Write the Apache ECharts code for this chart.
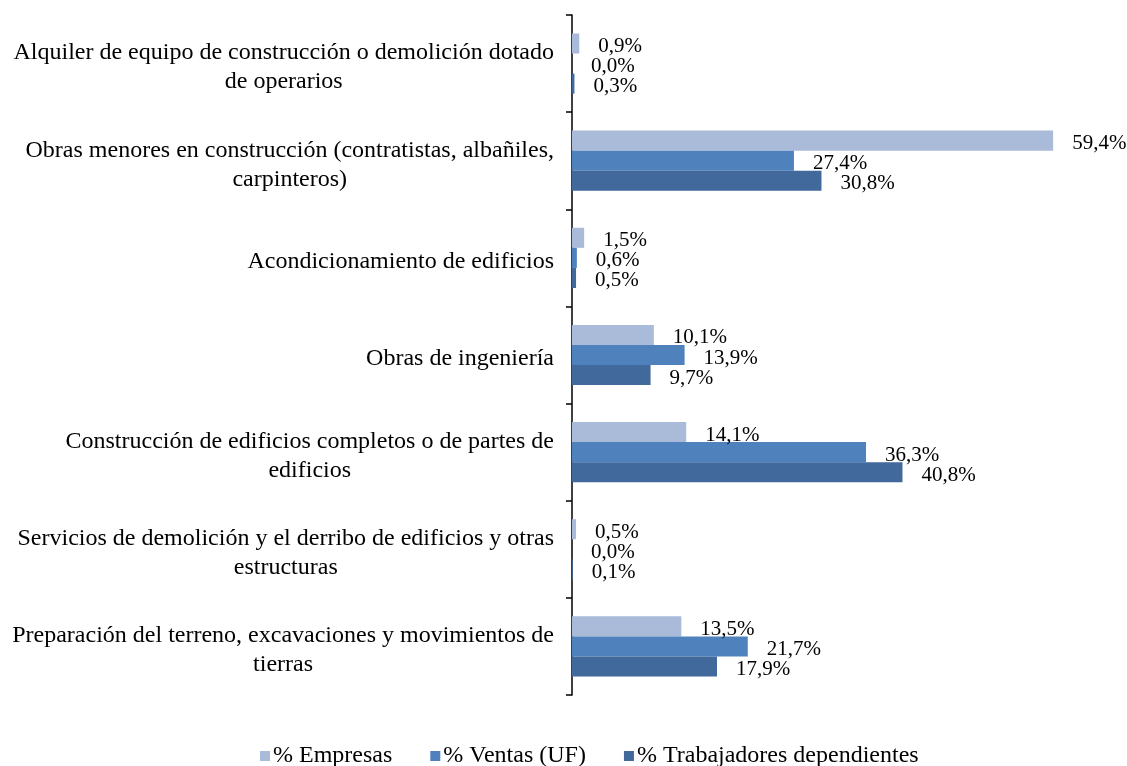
<!DOCTYPE html>
<html>
<head>
<meta charset="utf-8">
<script src="https://cdn.jsdelivr.net/npm/echarts@6/dist/echarts.min.js"></script>
<style>
html, body { margin: 0; padding: 0; background: #fff; }
#main { width: 1127px; height: 766px; }
</style>
</head>
<body>
<div id="main"></div>
<script>
// categorias, de arriba hacia abajo
var categorias = [
	'Alquiler de equipo de construcción o demolición dotado\nde operarios',
	'Obras menores en construcción (contratistas, albañiles,\ncarpinteros)',
	'Acondicionamiento de edificios',
	'Obras de ingeniería',
	'Construcción de edificios completos o de partes de\nedificios',
	'Servicios de demolición y el derribo de edificios y otras\nestructuras',
	'Preparación del terreno, excavaciones y movimientos de\ntierras'
];
var empresas = [0.9, 59.4, 1.5, 10.1, 14.1, 0.5, 13.5];
var ventas = [0.0, 27.4, 0.6, 13.9, 36.3, 0.0, 21.7];
var trabajadores = [0.3, 30.8, 0.5, 9.7, 40.8, 0.1, 17.9];
var nombres = ['% Empresas', '% Ventas (UF)', '% Trabajadores dependientes'];
var colores = ['#aabad9', '#4f81bd', '#41699c'];

var fuente = '"Liberation Serif", "Times New Roman", serif';

function formatPct(v) {
	return v.toFixed(1).replace('.', ',') + '%';
}

function serie(nombre, datos, color) {
	return {
		name: nombre,
		type: 'bar',
		data: datos,
		barGap: '0%',
		barCategoryGap: '38%',
		itemStyle: { color: color },
		label: {
			show: true,
			position: 'right',
			distance: 19,
			offset: [0, 3],
			color: '#000',
			fontFamily: fuente,
			fontSize: 21,
			formatter: function (p) { return formatPct(p.value); }
		}
	};
}

var myChart = echarts.init(document.getElementById('main'));
var option = {
	animation: false,
	backgroundColor: '#fff',
	grid: { left: 572, top: 15, width: 486, height: 680 },
	xAxis: {
		type: 'value',
		min: 0,
		max: 60,
		show: false,
		splitLine: { show: false }
	},
	yAxis: {
		type: 'category',
		inverse: true,
		data: categorias,
		axisLine: { lineStyle: { color: '#000', width: 1.5 } },
		axisTick: { show: true, length: 6, lineStyle: { color: '#000', width: 1.5 } },
		axisLabel: {
			margin: 18,
			padding: [8, 0, 0, 0],
			color: '#000',
			formatter: function (v) {
				return v.split('\n').map(function (s) { return '{c|' + s + '}'; }).join('\n');
			},
			rich: {
				c: {
					align: 'center',
					fontFamily: fuente,
					fontSize: 24,
					lineHeight: 29,
					color: '#000'
				}
			}
		}
	},
	legend: {
		top: 739,
		left: 255,
		icon: 'rect',
		itemWidth: 10,
		itemHeight: 10,
		itemGap: 38,
		textStyle: { fontFamily: fuente, fontSize: 24, color: '#000', padding: [0, 0, 0, -2] },
		data: nombres
	},
	series: [
		serie(nombres[0], empresas, colores[0]),
		serie(nombres[1], ventas, colores[1]),
		serie(nombres[2], trabajadores, colores[2])
	]
};
myChart.setOption(option);
</script>
</body>
</html>
